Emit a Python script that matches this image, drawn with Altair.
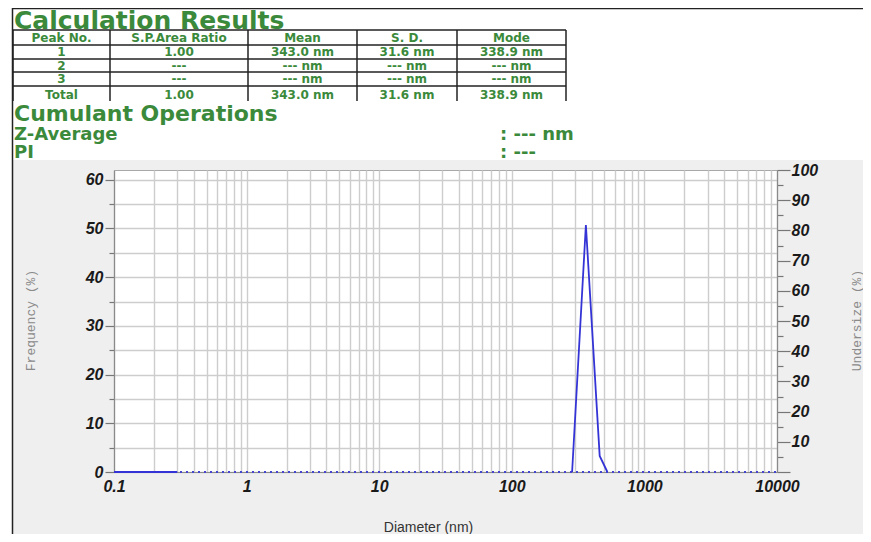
import altair as alt
import pandas as pd

# ---------------- data ----------------
freq_diam = [0.1, 0.3, 285, 362, 460, 526]
freq_val = [0, 0, 0, 50.7, 3.3, 0]
freq_seg = ["a", "a", "b", "b", "b", "b"]

under_diam = [0.1, 10000]
under_val = [0, 0]

x_major = [0.1, 1, 10, 100, 1000, 10000]
x_grid = [round(m * 10 ** e, 6) for e in range(-1, 4) for m in range(1, 10)] + [10000]
y_left_ticks = list(range(0, 61, 5))
y_right_ticks = list(range(0, 101, 5))

headers = ["Peak No.", "S.P.Area Ratio", "Mean", "S. D.", "Mode"]
rows = [
    ["1", "1.00", "343.0 nm", "31.6 nm", "338.9 nm"],
    ["2", "---", "--- nm", "--- nm", "--- nm"],
    ["3", "---", "--- nm", "--- nm", "--- nm"],
    ["Total", "1.00", "343.0 nm", "31.6 nm", "338.9 nm"],
]

# ---------------- layout (page pixels) ----------------
OX, OY = 114, 170          # plot origin on the page
W, H = 663, 302            # plot area size
GREEN = "#3b8a3b"
BLUE = "#3434d6"
HFONT = "DejaVu Sans"

col_edges = [13, 110, 248, 357, 457, 566]
row_centers = [37.5, 52, 65.5, 79, 94.5]
hlines_y = [30, 45, 59, 72, 86]

def px(x):
    return x - OX

def py(y):
    return y - OY

cells = []
for r, rc in enumerate(row_centers):
    vals = headers if r == 0 else rows[r - 1]
    for c, v in enumerate(vals):
        cells.append({"t": v, "x": px((col_edges[c] + col_edges[c + 1]) / 2), "y": py(rc)})
cells_df = pd.DataFrame(cells)

lines = []
for yy in hlines_y:
    lines.append({"x": px(col_edges[0]), "x2": px(col_edges[-1]), "y": py(yy), "y2": py(yy)})
for xx in col_edges:
    lines.append({"x": px(xx), "x2": px(xx), "y": py(30), "y2": py(101)})
lines.append({"x": px(12.5), "x2": px(871), "y": py(8.5), "y2": py(8.5)})
lines.append({"x": px(12.5), "x2": px(12.5), "y": py(8), "y2": py(542)})
lines_df = pd.DataFrame(lines)

big_text = pd.DataFrame([
    {"t": "Calculation Results", "x": px(14), "y": py(28.5), "s": 25},
    {"t": "Cumulant Operations", "x": px(14), "y": py(121), "s": 22},
])
mid_text = pd.DataFrame([
    {"t": "Z-Average", "x": px(14), "y": py(140)},
    {"t": "PI", "x": px(14), "y": py(158)},
    {"t": ":  --- nm", "x": px(500), "y": py(140)},
    {"t": ":  ---", "x": px(500), "y": py(158)},
])

freq_df = pd.DataFrame({"d": freq_diam, "v": freq_val, "seg": freq_seg})
under_df = pd.DataFrame({"d": under_diam, "u": under_val})

xscale = alt.Scale(type="log", domain=[0.1, 10000], nice=False)
x_is_major = "indexof([0.1,1,10,100,1000,10000], datum.value) >= 0"

x_axis = alt.Axis(
    values=x_grid, format="~g", labelExpr=f"{x_is_major} ? datum.label : ''",
    grid=True, ticks=False, labelFontSize=16, labelFontWeight="bold",
    labelFontStyle="italic", labelColor="#1a1a1a", labelPadding=6,
    labelFont="Liberation Sans", labelFlush=False, labelOverlap=False,
    title="Diameter (nm)", titleFont="Liberation Sans", titleFontSize=14,
    titleFontWeight="normal", titleColor="#333333", titleX=314, titleY=59,
    titleBaseline="alphabetic", titleAlign="center",
)

left_axis = alt.Axis(
    values=y_left_ticks, labelExpr="datum.value % 10 === 0 ? datum.label : ''",
    grid=True, tickSize={"condition": {"test": "datum.value % 10 === 0", "value": 9}, "value": 5},
    tickColor="#777777", tickWidth=1.2, labelPadding=2,
    labelFontSize=16, labelFontWeight="bold", labelFontStyle="italic",
    labelFont="Liberation Sans", labelColor="#1a1a1a", labelFlush=False,
    title="Frequency (%)", titleFont="Liberation Mono", titleFontSize=13,
    titleFontWeight="normal", titleColor="#8a8a8a", titleAngle=270,
    titleX=-84, titleY=150, titleAlign="center", titleBaseline="middle",
)

right_axis = alt.Axis(
    orient="right", values=y_right_ticks,
    labelExpr="datum.value % 10 === 0 && datum.value > 0 ? datum.label : ''",
    grid=False, tickSize={"condition": {"test": "datum.value % 10 === 0", "value": 13}, "value": 6},
    tickColor="#777777", tickWidth=1.2, labelPadding=1,
    labelFontSize=16, labelFontWeight="bold", labelFontStyle="italic",
    labelFont="Liberation Sans", labelColor="#1a1a1a", labelFlush=False,
    title="Undersize (%)", titleFont="Liberation Mono", titleFontSize=13,
    titleFontWeight="normal", titleColor="#8a8a8a", titleAngle=270,
    titleX=79, titleY=150, titleAlign="center", titleBaseline="middle",
)

# ---------------- layers ----------------
white_head = alt.Chart(pd.DataFrame({"a": [0]})).mark_rect(color="white").encode(
    x=alt.value(px(0)), x2=alt.value(px(871)), y=alt.value(py(0)), y2=alt.value(py(160)))
white_left = alt.Chart(pd.DataFrame({"a": [0]})).mark_rect(color="white").encode(
    x=alt.value(px(0)), x2=alt.value(px(12.5)), y=alt.value(py(0)), y2=alt.value(py(542)))

rules = alt.Chart(lines_df).mark_rule(color="#222222", strokeWidth=1.5).encode(
    x=alt.X("x:Q", scale=None, axis=None), x2="x2:Q",
    y=alt.Y("y:Q", scale=None, axis=None), y2="y2:Q")

table_text = alt.Chart(cells_df).mark_text(
    font=HFONT, fontWeight="bold", fontSize=12, color=GREEN,
    align="center", baseline="middle").encode(
    x=alt.X("x:Q", scale=None, axis=None), y=alt.Y("y:Q", scale=None, axis=None), text="t:N")

big = alt.Chart(big_text).mark_text(
    font=HFONT, fontWeight="bold", color=GREEN, align="left",
    baseline="alphabetic").encode(
    x=alt.X("x:Q", scale=None, axis=None), y=alt.Y("y:Q", scale=None, axis=None),
    text="t:N", size=alt.Size("s:Q", scale=None, legend=None))

mid = alt.Chart(mid_text).mark_text(
    font=HFONT, fontWeight="bold", fontSize=18, color=GREEN, align="left",
    baseline="alphabetic").encode(
    x=alt.X("x:Q", scale=None, axis=None), y=alt.Y("y:Q", scale=None, axis=None), text="t:N")

freq = alt.Chart(freq_df).mark_line(color=BLUE, strokeWidth=1.8).encode(
    x=alt.X("d:Q", scale=xscale, axis=x_axis),
    y=alt.Y("v:Q", scale=alt.Scale(domain=[0, 62], nice=False), axis=left_axis),
    detail="seg:N")

under = alt.Chart(under_df).mark_line(color="#4545d0", strokeWidth=2, strokeDash=[2, 4]).encode(
    x=alt.X("d:Q", scale=xscale),
    y=alt.Y("u:Q", scale=alt.Scale(domain=[0, 100], nice=False), axis=right_axis))

chart = alt.layer(
    white_head, white_left, rules, table_text, big, mid, under, freq
).resolve_scale(y="independent").properties(
    width=W, height=H,
    autosize=alt.AutoSizeParams(type="none"),
    padding={"left": OX - 8, "top": OY - 8, "right": 855 - (OX - 8) - W, "bottom": 526 - (OY - 8) - H},
    background="#efefef",
).configure_view(
    fill="white", stroke="#a8a8a8", strokeWidth=1
).configure_axis(
    gridColor="#cdcdcd", gridWidth=1.4, domainColor="#8a8a8a", domainWidth=1.2,
)

chart.save("out.html", embed_options={"renderer": "svg", "actions": False})
